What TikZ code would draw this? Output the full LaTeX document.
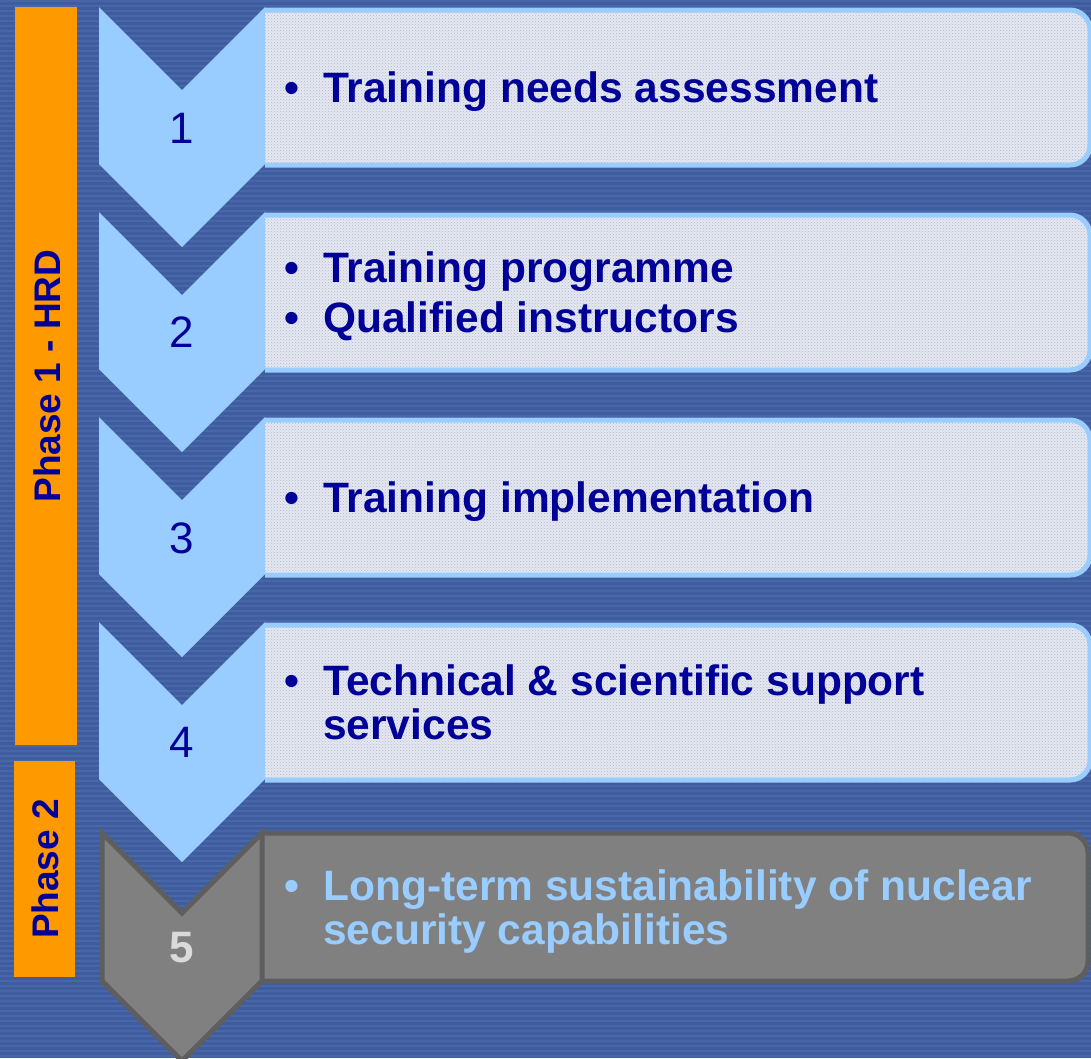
\documentclass[tikz,border=0pt]{standalone}
\usepackage{fontspec}
\setmainfont{Liberation Sans}
\usetikzlibrary{patterns}
\definecolor{bgblue}{HTML}{3F5D9E}
\definecolor{stripeblue}{HTML}{4867A9}
\definecolor{orangebar}{HTML}{FF9900}
\definecolor{chevblue}{HTML}{99CCFF}
\definecolor{boxgray}{HTML}{E6E8EF}
\definecolor{dotblue}{HTML}{AEB9D8}
\definecolor{navy}{HTML}{000099}
\definecolor{gfill}{HTML}{808080}
\definecolor{gline}{HTML}{5E5E5E}
\definecolor{numgray}{HTML}{DADADA}
\tikzset{
  phasebar/.style={fill=orangebar},
  phasetxt/.style={font=\fontsize{37}{40}\selectfont\bfseries, text=navy, inner sep=0pt, rotate=90},
  chevbox/.style={fill=chevblue},
  itembox/.style={fill=boxgray, draw=chevblue, line width=5pt, rounded corners=20pt},
  itemtxt/.style={font=\fontsize{42.5}{44}\selectfont\bfseries, text=navy, inner sep=0pt, anchor=base west},
  bultxt/.style={font=\fontsize{42.5}{44}\selectfont\bfseries, text=navy, inner sep=0pt, anchor=base},
  numtxt/.style={font=\fontsize{44}{46}\selectfont, text=navy, inner sep=0pt, anchor=base},
}
\begin{document}
\begin{tikzpicture}[x=1pt,y=-1pt]
\useasboundingbox (0,0) rectangle (1091,1058);
% background
\fill[bgblue] (0,0) rectangle (1091,1058);
\foreach \s in {0,5,...,1055} \fill[stripeblue] (0,\s) rectangle (1091,\s+2);
% phase bars
\fill[phasebar] (15,7) rectangle (77,745);
\fill[phasebar] (14,761) rectangle (75,977);
\node[phasetxt] (ph1) at (47,376) {Phase 1 - HRD};
\node[phasetxt] (ph2) at (45,869) {Phase 2};
% boxes 1-4
\foreach \T in {10,215,420,625} {
  \fill[boxgray] (265,\T) -- (1070,\T) arc[start angle=-90,end angle=0,radius=20] -- (1090,\T+135) arc[start angle=0,end angle=90,radius=20] -- (265,\T+155) -- cycle;
  \fill[pattern=crosshatch dots, pattern color=dotblue] (265,\T) -- (1070,\T) arc[start angle=-90,end angle=0,radius=20] -- (1090,\T+135) arc[start angle=0,end angle=90,radius=20] -- (265,\T+155) -- cycle;
  \draw[chevblue, line width=5pt] (265,\T) -- (1070,\T) arc[start angle=-90,end angle=0,radius=20] -- (1090,\T+135) arc[start angle=0,end angle=90,radius=20] -- (265,\T+155);
}
% box 5
\fill[gfill] (262,833) -- (1068,833) arc[start angle=-90,end angle=0,radius=20] -- (1088,961) arc[start angle=0,end angle=90,radius=20] -- (262,981) -- cycle;
\draw[gline, line width=5pt] (262,833) -- (1068,833) arc[start angle=-90,end angle=0,radius=20] -- (1088,961) arc[start angle=0,end angle=90,radius=20] -- (262,981);
% chevrons 1-4
\foreach \T in {7,212,417,622} {
  \fill[chevbox] (99,\T) -- (182,\T+83) -- (265,\T) -- (265,\T+157) -- (182,\T+240) -- (99,\T+157) -- cycle;
}
% chevron 5
\filldraw[fill=gfill, draw=gline, line width=5pt, line join=miter] (102,833) -- (182,913) -- (262,833) -- (262,981) -- (182,1061) -- (102,981) -- cycle;
% numbers
\node[numtxt] (n1) at (182,143) {1};
\node[numtxt] (n2) at (182,347) {2};
\node[numtxt] (n3) at (182,553) {3};
\node[numtxt] (n4) at (182,757) {4};
\node[numtxt, text=numgray, font=\fontsize{44}{46}\selectfont\bfseries] (n5) at (182,962) {5};
% texts
\node[bultxt] (b1) at (292,102) {•};
\node[itemtxt] (t1) at (323,102) {Training needs assessment};
\node[bultxt] (b2a) at (292,282) {•};
\node[itemtxt] (t2a) at (323,282) {Training programme};
\node[bultxt] (b2b) at (292,332) {•};
\node[itemtxt] (t2b) at (323,332) {Qualified instructors};
\node[bultxt] (b3) at (292,512) {•};
\node[itemtxt] (t3) at (323,512) {Training implementation};
\node[bultxt] (b4) at (292,695) {•};
\node[itemtxt] (t4a) at (323,695) {Technical \& scientific support};
\node[itemtxt] (t4b) at (323,739) {services};
\node[bultxt, text=chevblue] (b5) at (292,900) {•};
\node[itemtxt, text=chevblue] (t5a) at (323,900) {Long-term sustainability of nuclear};
\node[itemtxt, text=chevblue] (t5b) at (323,944) {security capabilities};
\end{tikzpicture}
\end{document}
